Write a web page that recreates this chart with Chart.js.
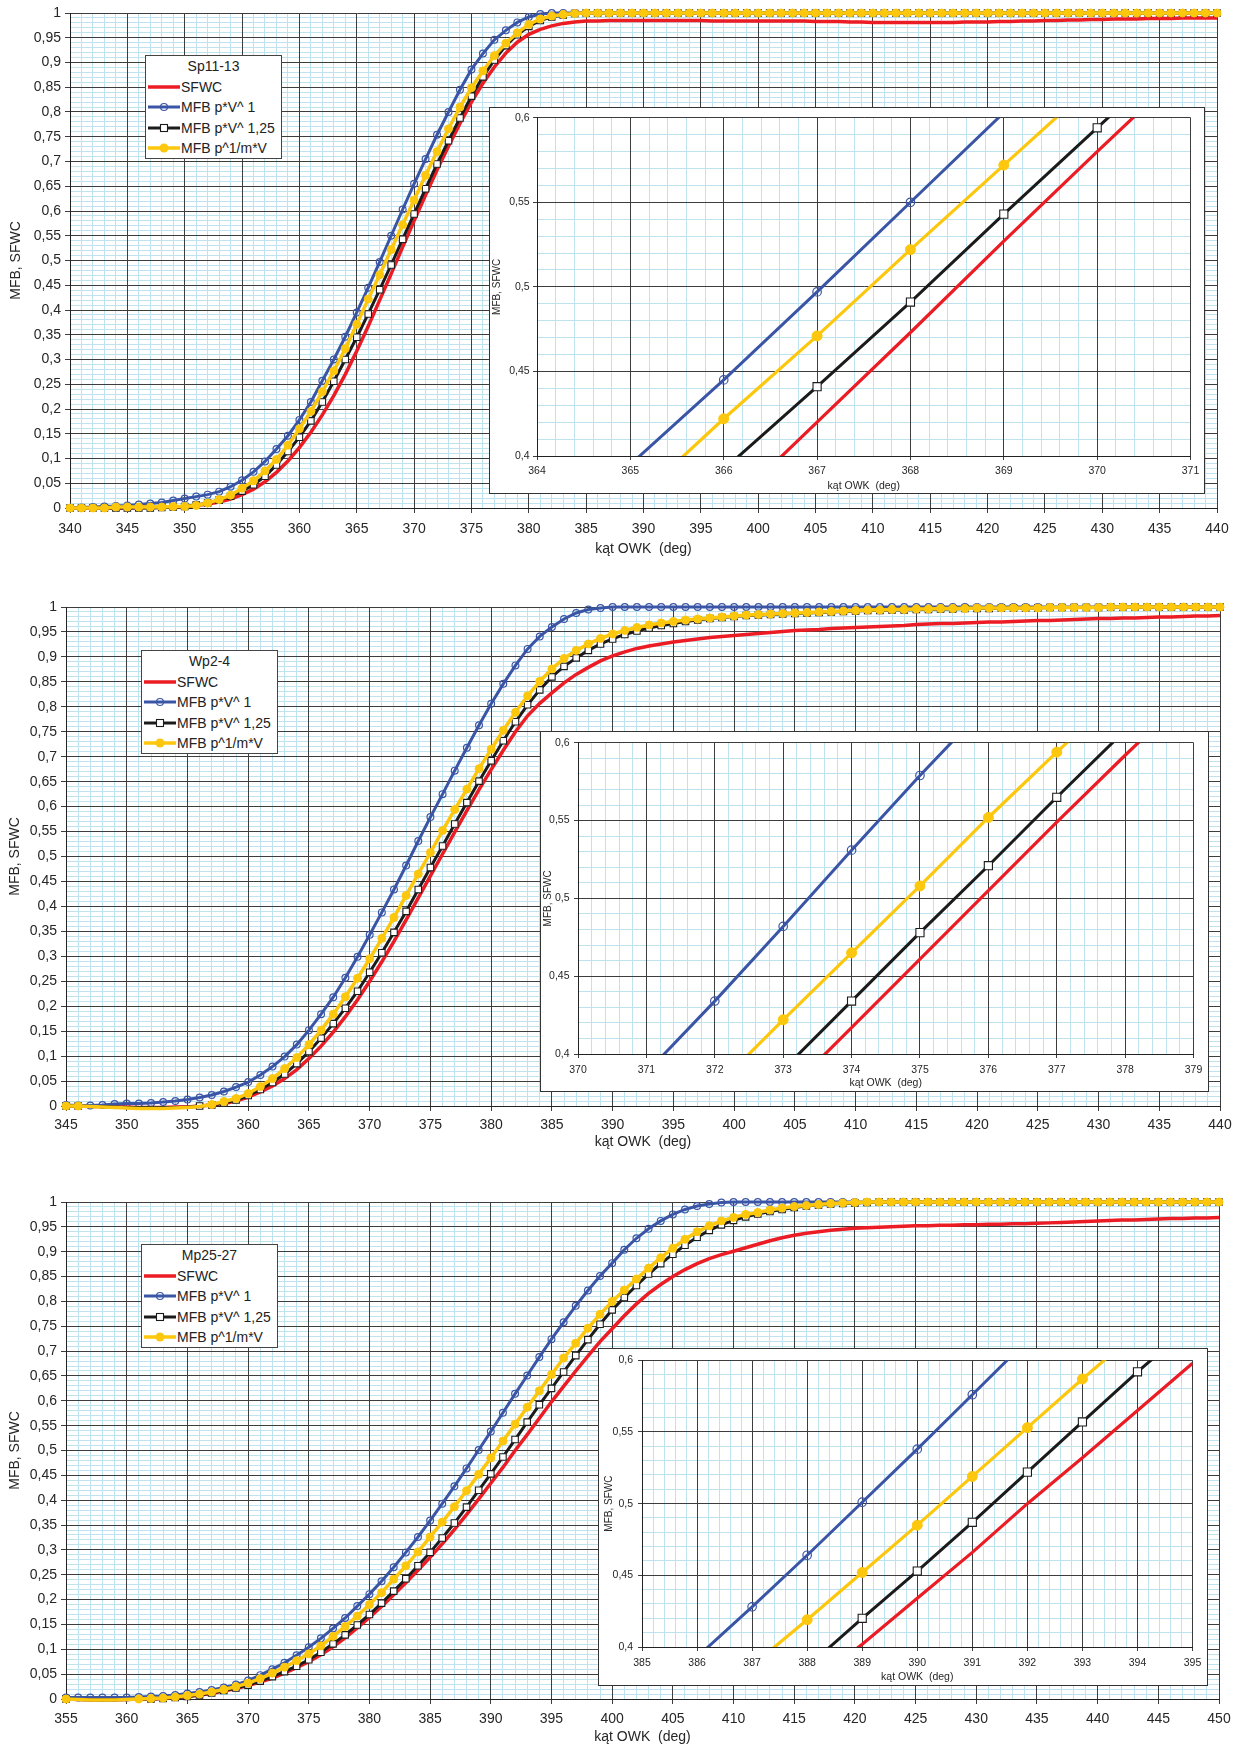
<!DOCTYPE html>
<html lang="pl">
<head>
<meta charset="utf-8">
<title>MFB, SFWC</title>
<script src="https://cdn.jsdelivr.net/npm/chart.js@4.4.1/dist/chart.umd.min.js"></script>
<style>
  html, body { margin: 0; padding: 0; background: #fff; }
  body { width: 1239px; height: 1747px; position: relative; overflow: hidden; font-family: "Liberation Sans", Arial, sans-serif; }
  canvas { position: absolute; }
  .inset { position: absolute; box-sizing: border-box; border: 1px solid #333; background: #fff; }
  .inset canvas { left: 0; top: 0; }
  .legend { position: absolute; box-sizing: border-box; width: 137px; height: 104px; border: 1px solid #444; background: #fff; font-size: 14px; color: #222; }
  .legend .title { position: absolute; left: 0; right: 0; top: 1px; height: 18px; line-height: 18px; text-align: center; }
  .legend .row { position: absolute; left: 0; width: 135px; height: 18px; line-height: 18px; white-space: nowrap; }
  .legend svg { position: absolute; left: 2px; top: 3px; }
  .legend span { position: absolute; left: 35px; top: 0; }
</style>
</head>
<body>
<canvas id="main1"></canvas>
<canvas id="main2"></canvas>
<canvas id="main3"></canvas>
<div class="legend" id="leg1"></div>
<div class="legend" id="leg2"></div>
<div class="legend" id="leg3"></div>
<div class="inset" id="box1"><canvas id="ins1"></canvas></div>
<div class="inset" id="box2"><canvas id="ins2"></canvas></div>
<div class="inset" id="box3"><canvas id="ins3"></canvas></div>
<script>
// ---- data ----
const seriesNames = ["SFWC", "MFB p*V^ 1", "MFB p*V^ 1,25", "MFB p^1/m*V"];
const panelTitles = ["Sp11-13", "Wp2-4", "Mp25-27"];
const xTitle = "kąt OWK  (deg)";
const yTitle = "MFB, SFWC";

// Sp11-13
const angles1 = [
  340, 341, 342, 343, 344, 345, 346, 347, 348, 349,
  350, 351, 352, 353, 354, 355, 356, 357, 358, 359,
  360, 361, 362, 363, 364, 365, 366, 367, 368, 369,
  370, 371, 372, 373, 374, 375, 376, 377, 378, 379,
  380, 381, 382, 383, 384, 385, 386, 387, 388, 389,
  390, 391, 392, 393, 394, 395, 396, 397, 398, 399,
  400, 401, 402, 403, 404, 405, 406, 407, 408, 409,
  410, 411, 412, 413, 414, 415, 416, 417, 418, 419,
  420, 421, 422, 423, 424, 425, 426, 427, 428, 429,
  430, 431, 432, 433, 434, 435, 436, 437, 438, 439,
  440
];
const sfwc1 = [
  0, 0, 0, 0, 0, 0, 0.001, 0.001, 0.001, 0.002,
  0.003, 0.005, 0.008, 0.012, 0.018, 0.027, 0.038, 0.053, 0.072, 0.095,
  0.122, 0.153, 0.188, 0.227, 0.27, 0.317, 0.367, 0.42, 0.473, 0.527,
  0.58, 0.632, 0.683, 0.731, 0.777, 0.82, 0.858, 0.891, 0.919, 0.941,
  0.957, 0.967, 0.974, 0.979, 0.982, 0.984, 0.984, 0.985, 0.985, 0.985,
  0.985, 0.985, 0.985, 0.985, 0.985, 0.985, 0.984, 0.984, 0.984, 0.984,
  0.984, 0.984, 0.984, 0.984, 0.984, 0.983, 0.983, 0.983, 0.982, 0.982,
  0.981, 0.981, 0.981, 0.981, 0.981, 0.981, 0.981, 0.981, 0.982, 0.982,
  0.982, 0.983, 0.983, 0.984, 0.984, 0.985, 0.985, 0.986, 0.986, 0.987,
  0.987, 0.988, 0.988, 0.988, 0.989, 0.989, 0.989, 0.99, 0.99, 0.99,
  0.99
];
const mfbA1 = [
  0, 0.001, 0.002, 0.003, 0.004, 0.005, 0.007, 0.009, 0.011, 0.015,
  0.019, 0.023, 0.027, 0.033, 0.043, 0.056, 0.073, 0.094, 0.119, 0.146,
  0.178, 0.214, 0.257, 0.3, 0.346, 0.395, 0.445, 0.497, 0.55, 0.603,
  0.655, 0.705, 0.754, 0.8, 0.845, 0.886, 0.918, 0.946, 0.965, 0.981,
  0.992, 0.998, 1, 1, 1, 1, 1, 1, 1, 1,
  1, 1, 1, 1, 1, 1, 1, 1, 1, 1,
  1, 1, 1, 1, 1, 1, 1, 1, 1, 1,
  1, 1, 1, 1, 1, 1, 1, 1, 1, 1,
  1, 1, 1, 1, 1, 1, 1, 1, 1, 1,
  1, 1, 1, 1, 1, 1, 1, 1, 1, 1,
  1
];
const mfbB1 = [
  0, 0, 0, 0, 0, 0, 0, 0, 0.001, 0.002,
  0.003, 0.006, 0.01, 0.016, 0.024, 0.034, 0.047, 0.064, 0.087, 0.114,
  0.143, 0.176, 0.214, 0.256, 0.3, 0.345, 0.392, 0.441, 0.491, 0.543,
  0.594, 0.645, 0.695, 0.742, 0.788, 0.832, 0.871, 0.905, 0.934, 0.956,
  0.973, 0.985, 0.992, 0.996, 0.999, 1, 1, 1, 1, 1,
  1, 1, 1, 1, 1, 1, 1, 1, 1, 1,
  1, 1, 1, 1, 1, 1, 1, 1, 1, 1,
  1, 1, 1, 1, 1, 1, 1, 1, 1, 1,
  1, 1, 1, 1, 1, 1, 1, 1, 1, 1,
  1, 1, 1, 1, 1, 1, 1, 1, 1, 1,
  1
];
const mfbC1 = [
  0, 0, 0, 0, 0.002, 0.002, 0.002, 0.002, 0.002, 0.003,
  0.003, 0.005, 0.01, 0.017, 0.026, 0.04, 0.055, 0.075, 0.098, 0.127,
  0.16, 0.195, 0.235, 0.277, 0.322, 0.371, 0.422, 0.471, 0.522, 0.572,
  0.622, 0.672, 0.72, 0.766, 0.81, 0.849, 0.883, 0.914, 0.939, 0.96,
  0.977, 0.988, 0.994, 0.997, 0.999, 1, 1, 1, 1, 1,
  1, 1, 1, 1, 1, 1, 1, 1, 1, 1,
  1, 1, 1, 1, 1, 1, 1, 1, 1, 1,
  1, 1, 1, 1, 1, 1, 1, 1, 1, 1,
  1, 1, 1, 1, 1, 1, 1, 1, 1, 1,
  1, 1, 1, 1, 1, 1, 1, 1, 1, 1,
  1
];

// Wp2-4
const angles2 = [
  345, 346, 347, 348, 349,
  350, 351, 352, 353, 354, 355, 356, 357, 358, 359,
  360, 361, 362, 363, 364, 365, 366, 367, 368, 369,
  370, 371, 372, 373, 374, 375, 376, 377, 378, 379,
  380, 381, 382, 383, 384, 385, 386, 387, 388, 389,
  390, 391, 392, 393, 394, 395, 396, 397, 398, 399,
  400, 401, 402, 403, 404, 405, 406, 407, 408, 409,
  410, 411, 412, 413, 414, 415, 416, 417, 418, 419,
  420, 421, 422, 423, 424, 425, 426, 427, 428, 429,
  430, 431, 432, 433, 434, 435, 436, 437, 438, 439,
  440
];
const sfwc2 = [
  0, 0, -0.001, -0.001, -0.002,
  -0.002, -0.003, -0.003, -0.003, -0.002, -0.002, 0, 0.002, 0.005, 0.01,
  0.018, 0.028, 0.04, 0.055, 0.073, 0.095, 0.12, 0.148, 0.179, 0.213,
  0.25, 0.289, 0.33, 0.373, 0.417, 0.461, 0.505, 0.549, 0.592, 0.634,
  0.674, 0.713, 0.75, 0.782, 0.807, 0.828, 0.848, 0.865, 0.879, 0.892,
  0.902, 0.91, 0.917, 0.922, 0.926, 0.93, 0.933, 0.936, 0.939, 0.941,
  0.943, 0.945, 0.947, 0.949, 0.951, 0.953, 0.954, 0.955, 0.957, 0.958,
  0.959, 0.96, 0.961, 0.962, 0.963, 0.965, 0.966, 0.967, 0.967, 0.968,
  0.969, 0.97, 0.97, 0.971, 0.972, 0.973, 0.973, 0.974, 0.975, 0.976,
  0.977, 0.977, 0.978, 0.978, 0.979, 0.98, 0.98, 0.981, 0.982, 0.982,
  0.983
];
const mfbA2 = [
  0.002, 0.001, 0.001, 0.002, 0.004,
  0.005, 0.005, 0.006, 0.008, 0.01, 0.013, 0.017, 0.022, 0.029, 0.038,
  0.048, 0.062, 0.079, 0.099, 0.123, 0.152, 0.184, 0.218, 0.257, 0.299,
  0.343, 0.388, 0.434, 0.482, 0.531, 0.579, 0.625, 0.672, 0.718, 0.763,
  0.806, 0.846, 0.883, 0.916, 0.941, 0.96, 0.976, 0.988, 0.995, 0.998,
  1, 1, 1, 1, 1, 1, 1, 1, 1, 1,
  1, 1, 1, 1, 1, 1, 1, 1, 1, 1,
  1, 1, 1, 1, 1, 1, 1, 1, 1, 1,
  1, 1, 1, 1, 1, 1, 1, 1, 1, 1,
  1, 1, 1, 1, 1, 1, 1, 1, 1, 1,
  1
];
const mfbB2 = [
  0, 0, -0.001, -0.001, -0.002,
  -0.003, -0.003, -0.003, -0.003, -0.003, -0.002, 0, 0.002, 0.006, 0.012,
  0.021, 0.033, 0.047, 0.064, 0.085, 0.109, 0.136, 0.165, 0.196, 0.23,
  0.268, 0.307, 0.348, 0.39, 0.434, 0.478, 0.521, 0.565, 0.608, 0.651,
  0.692, 0.732, 0.77, 0.804, 0.834, 0.86, 0.881, 0.898, 0.913, 0.926,
  0.936, 0.945, 0.952, 0.958, 0.963, 0.967, 0.971, 0.974, 0.977, 0.979,
  0.981, 0.983, 0.984, 0.985, 0.986, 0.987, 0.988, 0.989, 0.99, 0.991,
  0.992, 0.993, 0.993, 0.994, 0.994, 0.995, 0.995, 0.996, 0.996, 0.997,
  0.997, 0.997, 0.998, 0.998, 0.998, 0.998, 0.999, 0.999, 0.999, 0.999,
  0.999, 1, 1, 1, 1, 1, 1, 1, 1, 1,
  1
];
const mfbC2 = [
  0, 0, -0.001, -0.002, -0.003,
  -0.004, -0.005, -0.005, -0.005, -0.004, -0.003, -0.001, 0.003, 0.009, 0.015,
  0.025, 0.039, 0.055, 0.075, 0.097, 0.123, 0.152, 0.184, 0.219, 0.256,
  0.295, 0.336, 0.378, 0.422, 0.465, 0.508, 0.552, 0.594, 0.635, 0.676,
  0.715, 0.753, 0.789, 0.822, 0.851, 0.876, 0.897, 0.913, 0.926, 0.937,
  0.946, 0.953, 0.959, 0.964, 0.968, 0.971, 0.974, 0.976, 0.978, 0.98,
  0.982, 0.984, 0.985, 0.986, 0.987, 0.988, 0.989, 0.99, 0.991, 0.992,
  0.993, 0.994, 0.994, 0.995, 0.995, 0.996, 0.996, 0.997, 0.997, 0.997,
  0.998, 0.998, 0.998, 0.998, 0.998, 0.998, 0.999, 0.999, 0.999, 0.999,
  0.999, 1, 1, 1, 1, 1, 1, 1, 1, 1,
  1
];

// Mp25-27
const angles3 = [
  355, 356, 357, 358, 359,
  360, 361, 362, 363, 364, 365, 366, 367, 368, 369,
  370, 371, 372, 373, 374, 375, 376, 377, 378, 379,
  380, 381, 382, 383, 384, 385, 386, 387, 388, 389,
  390, 391, 392, 393, 394, 395, 396, 397, 398, 399,
  400, 401, 402, 403, 404, 405, 406, 407, 408, 409,
  410, 411, 412, 413, 414, 415, 416, 417, 418, 419,
  420, 421, 422, 423, 424, 425, 426, 427, 428, 429,
  430, 431, 432, 433, 434, 435, 436, 437, 438, 439,
  440, 441, 442, 443, 444, 445, 446, 447, 448, 449,
  450
];
const sfwc3 = [
  0, -0.001, -0.001, -0.001, -0.001,
  -0.001, 0, 0, 0.001, 0.003, 0.005, 0.008, 0.011, 0.016, 0.021,
  0.027, 0.034, 0.042, 0.052, 0.063, 0.075, 0.089, 0.105, 0.123, 0.143,
  0.164, 0.186, 0.21, 0.234, 0.259, 0.285, 0.312, 0.341, 0.371, 0.402,
  0.434, 0.466, 0.5, 0.532, 0.565, 0.598, 0.629, 0.66, 0.69, 0.719,
  0.745, 0.771, 0.795, 0.816, 0.834, 0.85, 0.864, 0.876, 0.886, 0.894,
  0.901, 0.908, 0.915, 0.922, 0.928, 0.933, 0.937, 0.94, 0.943, 0.945,
  0.947, 0.948, 0.949, 0.95, 0.951, 0.952, 0.952, 0.953, 0.953, 0.954,
  0.954, 0.955, 0.955, 0.956, 0.956, 0.957, 0.958, 0.959, 0.96, 0.961,
  0.962, 0.963, 0.964, 0.964, 0.965, 0.966, 0.967, 0.967, 0.968, 0.968,
  0.969
];
const mfbA3 = [
  0.003, 0.003, 0.003, 0.003, 0.003,
  0.003, 0.004, 0.005, 0.006, 0.008, 0.011, 0.014, 0.018, 0.023, 0.029,
  0.037, 0.048, 0.06, 0.073, 0.088, 0.104, 0.122, 0.142, 0.163, 0.187,
  0.211, 0.237, 0.265, 0.295, 0.326, 0.359, 0.393, 0.428, 0.464, 0.501,
  0.538, 0.576, 0.614, 0.651, 0.688, 0.724, 0.758, 0.791, 0.822, 0.851,
  0.877, 0.904, 0.927, 0.946, 0.962, 0.975, 0.985, 0.992, 0.996, 0.999,
  1, 1, 1, 1, 1, 1, 1, 1, 1, 1,
  1, 1, 1, 1, 1, 1, 1, 1, 1, 1,
  1, 1, 1, 1, 1, 1, 1, 1, 1, 1,
  1, 1, 1, 1, 1, 1, 1, 1, 1, 1,
  1
];
const mfbB3 = [
  0, -0.001, -0.002, -0.002, -0.002,
  -0.001, -0.001, 0, 0.001, 0.003, 0.005, 0.008, 0.012, 0.017, 0.022,
  0.028, 0.036, 0.045, 0.055, 0.066, 0.079, 0.094, 0.111, 0.129, 0.149,
  0.17, 0.193, 0.217, 0.242, 0.268, 0.295, 0.324, 0.354, 0.386, 0.42,
  0.453, 0.487, 0.522, 0.557, 0.592, 0.625, 0.658, 0.691, 0.723, 0.754,
  0.783, 0.808, 0.832, 0.855, 0.876, 0.895, 0.913, 0.929, 0.943, 0.954,
  0.963, 0.97, 0.976, 0.981, 0.985, 0.989, 0.992, 0.994, 0.996, 0.997,
  0.998, 0.999, 1, 1, 1, 1, 1, 1, 1, 1,
  1, 1, 1, 1, 1, 1, 1, 1, 1, 1,
  1, 1, 1, 1, 1, 1, 1, 1, 1, 1,
  1
];
const mfbC3 = [
  0, -0.001, -0.002, -0.002, -0.002,
  -0.001, 0, 0.001, 0.002, 0.004, 0.007, 0.01, 0.014, 0.019, 0.025,
  0.032, 0.041, 0.052, 0.064, 0.077, 0.091, 0.107, 0.126, 0.146, 0.167,
  0.19, 0.214, 0.241, 0.268, 0.296, 0.326, 0.356, 0.387, 0.419, 0.452,
  0.485, 0.519, 0.553, 0.587, 0.62, 0.653, 0.686, 0.716, 0.746, 0.774,
  0.8, 0.823, 0.845, 0.867, 0.888, 0.907, 0.925, 0.94, 0.952, 0.962,
  0.969, 0.975, 0.979, 0.984, 0.988, 0.991, 0.993, 0.995, 0.997, 0.998,
  0.999, 1, 1, 1, 1, 1, 1, 1, 1, 1,
  1, 1, 1, 1, 1, 1, 1, 1, 1, 1,
  1, 1, 1, 1, 1, 1, 1, 1, 1, 1,
  1
];

// ---- styling ----
Chart.defaults.font.family = '"Liberation Sans", Arial, sans-serif';

const RED = "#ec1c24";
const BLUE = "#3a55a5";
const BLACK = "#1b1b1b";
const YELLOW = "#fcc70d";
const GRID_MAJOR = "#3d3d3d";
const GRID_MINOR = "#bfe3ee";
const TEXT = "#262626";

function pairs(xs, ys) {
  return xs.map((x, i) => ({ x: x, y: ys[i] }));
}

function comma(v) {
  return String(+v.toFixed(2)).replace(".", ",");
}

// markers of points below the axis are hidden, like in the original
function radius(r) {
  return (ctx) => (ctx.raw && ctx.raw.y < 0 ? 0 : r);
}

function datasets(angles, s, big) {
  const k = big ? 1.25 : 1;
  const clip = big ? undefined : 10;
  return [
    { label: seriesNames[0], data: pairs(angles, s[0]), borderColor: RED, borderWidth: big ? 3.2 : 3.5,
      pointRadius: 0, order: 4, clip: clip },
    { label: seriesNames[1], data: pairs(angles, s[1]), borderColor: BLUE, borderWidth: big ? 3 : 3,
      pointStyle: "circle", pointRadius: radius(3.4 * k), pointBorderWidth: 1.2, pointBorderColor: BLUE,
      pointBackgroundColor: "rgba(255,255,255,0)", order: 3, clip: clip },
    { label: seriesNames[2], data: pairs(angles, s[2]), borderColor: BLACK, borderWidth: big ? 3 : 3,
      pointStyle: "rect", pointRadius: radius(4.6 * k), pointBorderWidth: 1.1, pointBorderColor: BLACK,
      pointBackgroundColor: "#fff", order: 2, clip: clip },
    { label: seriesNames[3], data: pairs(angles, s[3]), borderColor: YELLOW, borderWidth: big ? 3.2 : 3.5,
      pointStyle: "circle", pointRadius: radius(4 * k), pointBorderWidth: 1, pointBorderColor: YELLOW,
      pointBackgroundColor: YELLOW, order: 1, clip: clip }
  ];
}

function minorAxis(axis, min, max, step) {
  return {
    type: "linear", axis: axis, position: axis === "x" ? "bottom" : "left",
    min: min, max: max,
    ticks: { display: false, stepSize: step },
    grid: { color: GRID_MINOR, lineWidth: 1, drawTicks: false, z: -2 },
    border: { display: false },
    afterFit: (s) => { if (axis === "x") s.height = 0; else s.width = 0; }
  };
}

function drawChart(c) {
  const canvas = document.getElementById(c.id);
  canvas.width = c.w;
  canvas.height = c.h;
  canvas.style.width = c.w + "px";
  canvas.style.height = c.h + "px";
  if (c.left !== undefined) {
    canvas.style.left = c.left + "px";
    canvas.style.top = c.top + "px";
  }
  return new Chart(canvas.getContext("2d"), {
    type: "line",
    data: { datasets: datasets(c.angles, c.series, c.inset) },
    options: {
      responsive: false,
      animation: false,
      devicePixelRatio: 1,
      events: [],
      layout: { padding: { left: 0, top: c.padTop, right: c.padRight, bottom: 0 } },
      plugins: { legend: { display: false }, tooltip: { enabled: false } },
      scales: {
        xm: minorAxis("x", c.xMin, c.xMax, c.xMinor),
        ym: minorAxis("y", c.yMin, c.yMax, c.yMinor),
        x: {
          type: "linear", min: c.xMin, max: c.xMax,
          ticks: { stepSize: c.xStep, autoSkip: false, maxRotation: 0, color: TEXT,
                   font: { size: c.tickFont }, padding: c.xTickPad, callback: (v) => String(v) },
          grid: { color: GRID_MAJOR, tickColor: GRID_MAJOR, tickLength: c.tickLen, z: -1 },
          border: { color: "#222", width: 1 },
          title: { display: true, text: xTitle, color: TEXT, font: { size: c.xTitleFont },
                   padding: { top: 0, bottom: c.xTitlePad } },
          afterFit: (s) => { s.height = c.xAxisH; }
        },
        y: {
          type: "linear", min: c.yMin, max: c.yMax,
          ticks: { stepSize: 0.05, autoSkip: false, color: TEXT, font: { size: c.tickFont },
                   padding: c.yTickPad, callback: (v) => comma(v) },
          grid: { color: GRID_MAJOR, tickColor: GRID_MAJOR, tickLength: c.tickLen, z: -1 },
          border: { color: "#222", width: 1 },
          title: { display: true, text: yTitle, color: TEXT, font: { size: c.yTitleFont },
                   padding: { top: c.yTitlePad, bottom: 0 } },
          afterFit: (s) => { s.width = c.yAxisW; }
        }
      }
    }
  });
}

function legendBox(id, left, top, title) {
  const el = document.getElementById(id);
  el.style.left = left + "px";
  el.style.top = top + "px";
  const rowsTop = [21.5, 42, 62.5, 83];
  let html = '<div class="title">' + title + "</div>";
  const cols = [RED, BLUE, BLACK, YELLOW];
  const widths = [3.5, 3, 3, 3.5];
  seriesNames.forEach((name, i) => {
    let svg = '<svg width="32" height="12" viewBox="0 0 32 12">' +
      '<line x1="0" y1="6" x2="32" y2="6" stroke="' + cols[i] + '" stroke-width="' + widths[i] + '"/>';
    if (i === 1) svg += '<circle cx="16" cy="6" r="3.5" fill="none" stroke="' + BLUE + '" stroke-width="1.2"/>';
    if (i === 2) svg += '<rect x="12.5" y="2.5" width="7" height="7" fill="#fff" stroke="' + BLACK + '" stroke-width="1.1"/>';
    if (i === 3) svg += '<circle cx="16" cy="6" r="4.5" fill="' + YELLOW + '"/>';
    svg += "</svg>";
    html += '<div class="row" style="top:' + rowsTop[i] + 'px">' + svg + "<span>" + name + "</span></div>";
  });
  el.innerHTML = html;
}

function insetBox(id, left, top, w, h) {
  const el = document.getElementById(id);
  el.style.left = left + "px";
  el.style.top = top + "px";
  el.style.width = w + "px";
  el.style.height = h + "px";
}

const mainBase = { inset: false, yMin: 0, yMax: 1, xStep: 5, xMinor: 1, yMinor: 0.01, tickLen: 5,
  tickFont: 14, xTitleFont: 14, yTitleFont: 14, yTickPad: 4, w: 1239, left: 0 };
const insetBase = { inset: true, yMin: 0.4, yMax: 0.6, xStep: 1, xMinor: 0.2, yMinor: 0.01, tickLen: 4,
  tickFont: 10.5, xTitleFont: 10.5, yTitleFont: 10 };

// panel 1
drawChart(Object.assign({}, mainBase, { id: "main1", top: 0, h: 563, padTop: 13, padRight: 22,
  yAxisW: 70, xAxisH: 55, xTickPad: 7.5, xTitlePad: 5.6, yTitlePad: 7.6,
  angles: angles1, series: [sfwc1, mfbA1, mfbB1, mfbC1], xMin: 340, xMax: 440 }));
// panel 2
drawChart(Object.assign({}, mainBase, { id: "main2", top: 580, h: 576, padTop: 27, padRight: 19,
  yAxisW: 66, xAxisH: 50, xTickPad: 6, xTitlePad: 5.6, yTitlePad: 6.6,
  angles: angles2, series: [sfwc2, mfbA2, mfbB2, mfbC2], xMin: 345, xMax: 440 }));
// panel 3
drawChart(Object.assign({}, mainBase, { id: "main3", top: 1175, h: 572, padTop: 27, padRight: 20,
  yAxisW: 66, xAxisH: 48, xTickPad: 6.6, xTitlePad: 1.6, yTitlePad: 6.6,
  angles: angles3, series: [sfwc3, mfbA3, mfbB3, mfbC3], xMin: 355, xMax: 450 }));

legendBox("leg1", 145, 55, panelTitles[0]);
legendBox("leg2", 141, 650, panelTitles[1]);
legendBox("leg3", 141, 1244, panelTitles[2]);

insetBox("box1", 489, 107, 716, 387);
drawChart(Object.assign({}, insetBase, { id: "ins1", w: 714, h: 385, padTop: 9, padRight: 10,
  yAxisW: 47, xAxisH: 37, xTickPad: 4.7, xTitlePad: 1, yTitlePad: 1.5, yTickPad: 3.4,
  angles: angles1, series: [sfwc1, mfbA1, mfbB1, mfbC1], xMin: 364, xMax: 371 }));

insetBox("box2", 540, 731, 669, 361);
drawChart(Object.assign({}, insetBase, { id: "ins2", w: 667, h: 359, padTop: 9, padRight: 9,
  yAxisW: 37, xAxisH: 37, xTickPad: 5.7, xTitlePad: 2, yTitlePad: 1.5, yTickPad: 4.5,
  angles: angles2, series: [sfwc2, mfbA2, mfbB2, mfbC2], xMin: 370, xMax: 379 }));

insetBox("box3", 598, 1348, 610, 338);
drawChart(Object.assign({}, insetBase, { id: "ins3", w: 608, h: 336, padTop: 9, padRight: 8,
  yAxisW: 43, xAxisH: 38, xTickPad: 5.7, xTitlePad: 2, yTitlePad: 3.9, yTickPad: 5,
  angles: angles3, series: [sfwc3, mfbA3, mfbB3, mfbC3], xMin: 385, xMax: 395 }));
</script>
</body>
</html>
